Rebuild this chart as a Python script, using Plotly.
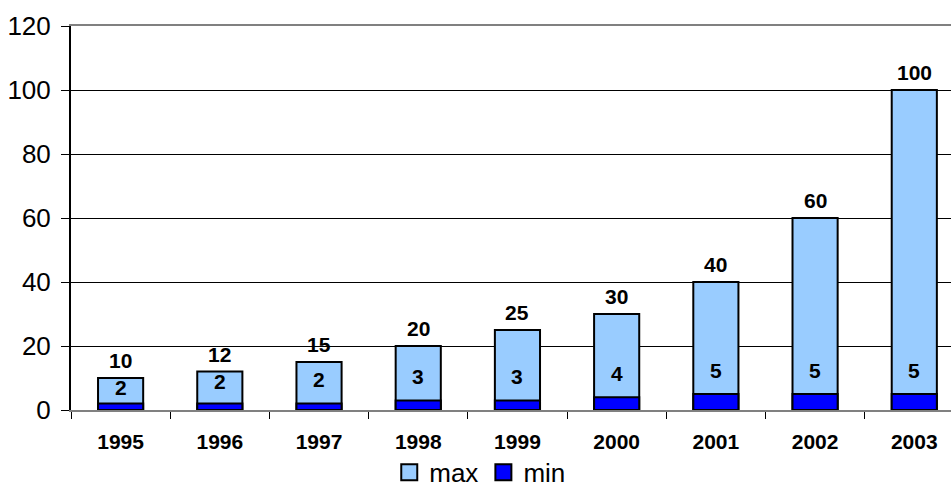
import plotly.graph_objects as go

years = ["1995", "1996", "1997", "1998", "1999", "2000", "2001", "2002", "2003"]
max_vals = [10, 12, 15, 20, 25, 30, 40, 60, 100]
min_vals = [2, 2, 2, 3, 3, 4, 5, 5, 5]
series_names = ["max", "min"]

FONT = "Liberation Sans, Arial, sans-serif"
LIGHT = "#99CCFF"
BLUE = "#0000FF"

fig = go.Figure()
for name, vals, col in zip(series_names, [max_vals, min_vals], [LIGHT, BLUE]):
    fig.add_trace(go.Bar(x=years, y=vals, name=name, width=0.455, showlegend=False,
                         marker=dict(color=col, line=dict(color="#000000", width=2))))
# legend entries (square swatches)
for name, col in zip(series_names, [LIGHT, BLUE]):
    fig.add_trace(go.Scatter(x=[None], y=[None], name=name, mode="markers",
                             marker=dict(symbol="square", size=16, color=col,
                                         line=dict(color="#000000", width=2))))

annotations = []
for i, (mx, mn) in enumerate(zip(max_vals, min_vals)):
    annotations.append(dict(x=i, y=mx, xref="x", yref="y", text=str(mx), showarrow=False,
                            yanchor="bottom", yshift=4,
                            font=dict(family=FONT, size=21, color="#000000", weight="bold")))
    annotations.append(dict(x=i, y=min(mn + 7.5, mx - 3.1), xref="x", yref="y",
                            text=str(mn), showarrow=False, yanchor="middle",
                            font=dict(family=FONT, size=21, color="#000000", weight="bold")))

fig.update_layout(
    width=951, height=487,
    margin=dict(l=71, r=0, t=26, b=77, autoexpand=False),
    barmode="overlay",
    plot_bgcolor="#FFFFFF", paper_bgcolor="#FFFFFF",
    font=dict(family=FONT, color="#000000"),
    annotations=annotations,
    legend=dict(orientation="h", xref="container", yref="container",
                x=0.505, y=0.03, xanchor="center", yanchor="middle",
                font=dict(family=FONT, size=26, color="#000000"),
                itemsizing="trace", traceorder="normal", tracegroupgap=0,
                itemwidth=30),
    xaxis=dict(range=[-0.5, 8.37], type="category",
               showline=True, linecolor="#808080", linewidth=2, mirror=True,
               ticks="outside", tickson="boundaries", ticklen=7, tickcolor="#000000",
               tickfont=dict(family=FONT, size=21, color="#000000", weight="bold"),
               ticklabelstandoff=12, showgrid=False),
    yaxis=dict(range=[0, 120], dtick=20, tick0=0,
               showline=True, linecolor="#000000", linewidth=2,
               ticks="outside", ticklen=8, tickcolor="#000000",
               tickfont=dict(family=FONT, size=26, color="#000000"),
               ticklabelstandoff=5,
               showgrid=True, gridcolor="#000000", gridwidth=1, zeroline=False),
)

fig.write_html("out.html", config={"displayModeBar": False},
               post_script="document.body.style.margin='0';document.body.style.overflow='hidden';")
